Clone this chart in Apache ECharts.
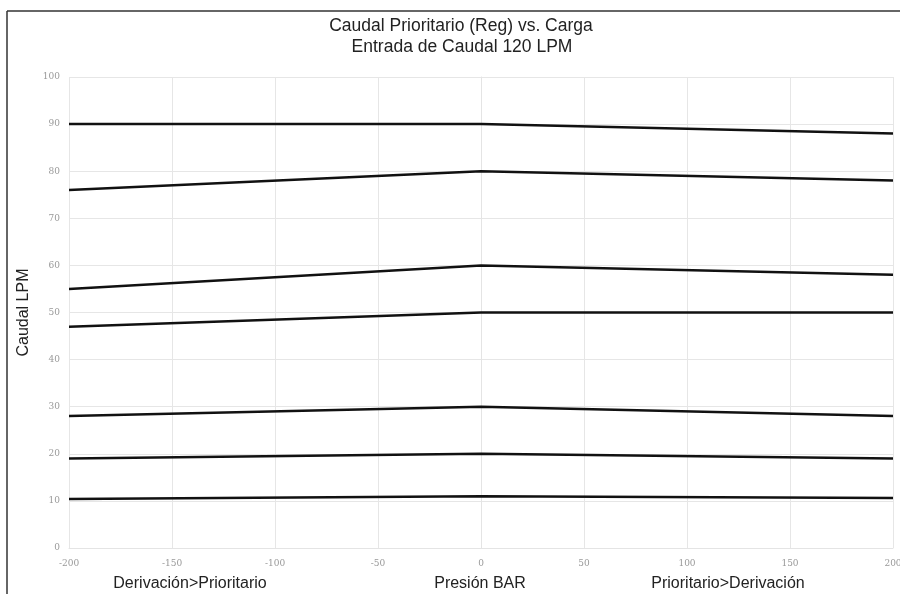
<!DOCTYPE html>
<html><head><meta charset="utf-8">
<script src="https://cdn.jsdelivr.net/npm/echarts@6/dist/echarts.min.js"></script>
<style>html,body{margin:0;padding:0;background:#fff}#c{width:900px;height:594px}</style>
</head><body><div id="c"></div>
<script>
const pressures = [-200, 0, 200];
const flow90 = [90, 90, 88];
const flow80 = [76, 80, 78];
const flow60 = [55, 60, 58];
const flow50 = [47, 50, 50];
const flow30 = [28, 30, 28];
const flow20 = [19, 20, 19];
const flow10 = [10.4, 11, 10.6];
const allFlows = [flow90, flow80, flow60, flow50, flow30, flow20, flow10];
const titleLines = ['Caudal Prioritario (Reg) vs. Carga', 'Entrada de Caudal 120 LPM'];
const bottomLabels = ['Derivación>Prioritario', 'Presión BAR', 'Prioritario>Derivación'];

const chart = echarts.init(document.getElementById('c'));
const font = '"Liberation Sans", Arial, sans-serif';
const txt = (t, x, y, size) => ({type: 'text', x: x, y: y, style: {text: t, fill: '#222', font: size + 'px ' + font, textAlign: 'center', textVerticalAlign: 'middle'}});
chart.setOption({
  animation: false,
  backgroundColor: '#fff',
  grid: {left: 69, right: 7, top: 77, bottom: 46, containLabel: false, outerBoundsMode: 'none'},
  xAxis: {
    type: 'value', min: -200, max: 200, interval: 50,
    axisLine: {show: true, lineStyle: {color: '#e4e4e4'}},
    axisTick: {show: false},
    axisLabel: {color: '#999', fontSize: 9, fontFamily: '"DejaVu Serif", serif', margin: 11},
    splitLine: {show: true, lineStyle: {color: '#e6e6e6', width: 1}}
  },
  yAxis: {
    type: 'value', min: 0, max: 100, interval: 10,
    name: 'Caudal LPM', nameLocation: 'middle', nameGap: 30, nameRotate: 90,
    nameTextStyle: {fontFamily: font, fontSize: 16, color: '#222'},
    axisLine: {show: true, lineStyle: {color: '#e4e4e4'}},
    axisTick: {show: false},
    axisLabel: {color: '#999', fontSize: 9, fontFamily: '"DejaVu Serif", serif', margin: 9},
    splitLine: {show: true, lineStyle: {color: '#e6e6e6', width: 1}}
  },
  series: allFlows.map(f => ({
    type: 'line',
    data: pressures.map((p, i) => [p, f[i]]),
    showSymbol: false,
    lineStyle: {color: '#111', width: 2.5},
    silent: true
  })),
  graphic: [
    {type: 'line', shape: {x1: 7, y1: 11, x2: 7, y2: 594}, style: {stroke: '#333', lineWidth: 1.5}},
    {type: 'line', shape: {x1: 7, y1: 11, x2: 900, y2: 11}, style: {stroke: '#333', lineWidth: 1.5}},
    txt(titleLines[0], 461, 26, 17.5),
    txt(titleLines[1], 462, 47, 17.5),
    txt(bottomLabels[0], 190, 584, 16),
    txt(bottomLabels[1], 480, 584, 16),
    txt(bottomLabels[2], 728, 584, 16)
  ]
});
</script></body></html>
